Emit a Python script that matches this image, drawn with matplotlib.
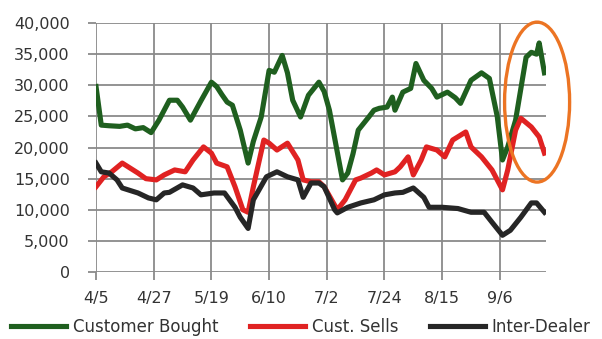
import matplotlib
matplotlib.use("Agg")
import matplotlib.pyplot as plt
from matplotlib.patches import Ellipse
from matplotlib.ticker import FuncFormatter

# ----------------------------------------
# Daily volumes, x = days since 4/5
# ----------------------------------------
tick_days = [0, 22, 44, 66, 88, 110, 132, 154]
tick_labels = ["4/5", "4/27", "5/19", "6/10", "7/2", "7/24", "8/15", "9/6"]

bought_days = [0, 2, 5, 9, 12, 15, 18, 21, 24, 28, 31, 33, 36, 40, 44, 46, 48,
               50, 52, 55, 58, 60, 63, 66, 68, 71, 73, 75, 78, 81, 85, 87, 89,
               94, 96, 98, 100, 104, 106, 108, 111, 113, 114, 117, 120, 122,
               125, 128, 130, 134, 137, 139, 143, 147, 150, 153, 155, 157, 160,
               164, 166, 168, 169, 171]
bought = [29800, 23600, 23500, 23400, 23600, 23000, 23200, 22400, 24400, 27600,
          27600, 26500, 24400, 27500, 30500, 29800, 28500, 27300, 26800, 22800,
          17500, 21000, 24900, 32400, 32100, 34800, 32000, 27600, 24900, 28400,
          30500, 29000, 26000, 14800, 15900, 19000, 22800, 24900, 26000, 26300,
          26500, 28100, 26000, 28900, 29500, 33500, 30800, 29500, 28100, 28900,
          28000, 27100, 30800, 32000, 31100, 25000, 18000, 20100, 24400, 34500,
          35300, 35000, 36800, 32000]

sells_days = [0, 3, 6, 10, 16, 19, 23, 26, 30, 34, 37, 41, 44, 46, 50, 53, 56,
              58, 60, 64, 66, 69, 73, 77, 79, 82, 85, 87, 92, 95, 99, 101, 105,
              107, 110, 114, 116, 119, 121, 124, 126, 130, 133, 136, 141, 143,
              147, 151, 155, 157, 160, 162, 166, 169, 171]
sells = [13700, 15300, 16100, 17500, 15900, 15000, 14800, 15600, 16400, 16100,
         18000, 20100, 19100, 17500, 16900, 13700, 10000, 9600, 13700, 21200,
         20700, 19600, 20700, 18000, 14800, 14500, 14500, 13700, 10000, 11600,
         14800, 15100, 15900, 16400, 15600, 16100, 16900, 18500, 15600, 18000,
         20100, 19600, 18500, 21200, 22500, 20100, 18500, 16400, 13200, 16400,
         22800, 24700, 23300, 21700, 19100]

dealer_days = [0, 2, 5, 8, 10, 16, 20, 23, 26, 28, 33, 37, 40, 45, 49, 53, 55,
               58, 60, 65, 69, 73, 77, 79, 82, 85, 87, 91, 92, 96, 101, 106,
               110, 114, 117, 121, 125, 127, 132, 138, 143, 148, 151, 155, 158,
               162, 166, 168, 171]
dealer = [17500, 16100, 15900, 14800, 13500, 12700, 11900, 11600, 12700, 12800,
          14000, 13500, 12400, 12700, 12700, 10400, 8800, 7000, 11600, 15300,
          16100, 15300, 14800, 12000, 14300, 14300, 13700, 10000, 9500, 10400,
          11100, 11600, 12400, 12700, 12800, 13500, 12000, 10400, 10400, 10200,
          9600, 9600, 8000, 5900, 6700, 8800, 11100, 11100, 9600]

fig = plt.figure(figsize=(6.02, 3.39), dpi=100)
ax = fig.add_axes([0.1595, 0.1976, 0.7475, 0.7344])

ax.plot(bought_days, bought, color="#1f5f1f", lw=3.7, solid_joinstyle="round",
        label="Customer Bought")
ax.plot(sells_days, sells, color="#e02222", lw=3.7, solid_joinstyle="round",
        label="Cust. Sells")
ax.plot(dealer_days, dealer, color="#262626", lw=3.7, solid_joinstyle="round",
        label="Inter-Dealer")

# highlight around the last weeks
ring = Ellipse((168.2, 27300), 24.8, 25700, fill=False, edgecolor="#ec7423",
               lw=2.4, clip_on=False, zorder=5)
ax.add_patch(ring)

ax.set_xlim(0, 171.6)
ax.set_ylim(0, 40000)
ax.set_yticks(range(0, 40001, 5000))
ax.yaxis.set_major_formatter(FuncFormatter(lambda v, p: f"{int(v):,}"))
ax.set_xticks(tick_days)
ax.set_xticklabels(tick_labels)

for s in ax.spines.values():
    s.set_visible(False)
ax.grid(True, color="#8a8a8a", lw=1.3)
ax.set_axisbelow(True)
ax.tick_params(axis="both", direction="out", length=6, width=1.3,
               color="#8a8a8a", labelsize=11.5, labelcolor="#333333")
ax.tick_params(axis="y", pad=13)
ax.tick_params(axis="x", pad=8)

fig.legend(loc="center", bbox_to_anchor=(0.5, 0.035), ncol=3, frameon=False,
           fontsize=12, handlelength=3.3, handletextpad=0.4,
           columnspacing=1.9, labelcolor="#333333")

fig.savefig("out.png", dpi=100)
